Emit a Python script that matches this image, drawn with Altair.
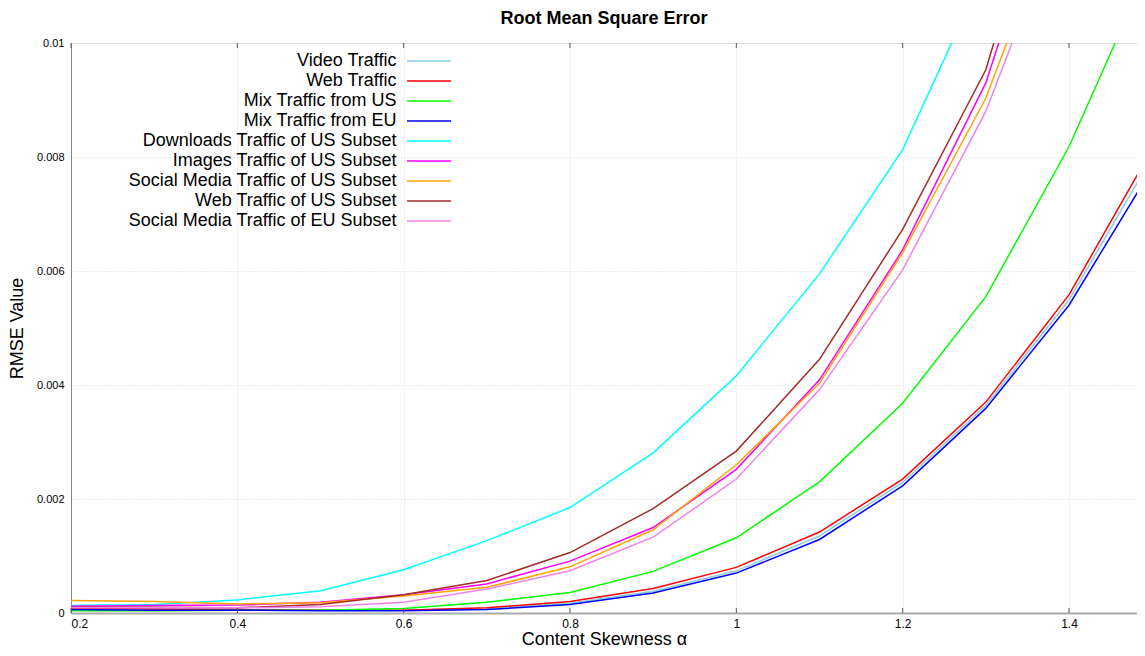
import altair as alt
import pandas as pd

x_vals = [0.2, 0.3, 0.4, 0.5, 0.6, 0.7, 0.8, 0.9, 1.0, 1.1, 1.2, 1.3, 1.4, 1.5]

series_names = [
    "Video Traffic",
    "Web Traffic",
    "Mix Traffic from US",
    "Mix Traffic from EU",
    "Downloads Traffic of US Subset",
    "Images Traffic of US Subset",
    "Social Media Traffic of US Subset",
    "Web Traffic of US Subset",
    "Social Media Traffic of EU Subset",
]
series_colors = ["#87ceeb", "#ff0000", "#00ff00", "#0000ff", "#00ffff",
                 "#ff00ff", "#ffa500", "#a52a2a", "#ee82ee"]

video = [0.00008, 0.00007, 0.00006, 0.00005, 0.00005, 0.00007, 0.00017, 0.00038,
         0.00074, 0.00135, 0.00229, 0.00364, 0.00549, 0.0080]
web = [0.00008, 0.00007, 0.00006, 0.00005, 0.00005, 0.00009, 0.00020, 0.00043,
       0.00080, 0.00142, 0.00235, 0.00370, 0.00558, 0.00814]
mix_us = [0.00004, 0.00004, 0.00005, 0.00005, 0.00008, 0.00019, 0.00036, 0.00073,
          0.00132, 0.00230, 0.00368, 0.00555, 0.00818, 0.01146]
mix_eu = [0.00006, 0.00005, 0.00005, 0.00004, 0.00004, 0.00006, 0.00015, 0.00035,
          0.00070, 0.00129, 0.00223, 0.00359, 0.00540, 0.00780]
downloads_us = [0.00013, 0.00015, 0.00023, 0.00039, 0.00076, 0.00127, 0.00185, 0.00281,
                0.00416, 0.00595, 0.00813, 0.01130, 0.01550, 0.02100]
images_us = [0.00012, 0.00013, 0.00014, 0.00019, 0.00032, 0.00051, 0.00091, 0.00150,
             0.00252, 0.00409, 0.00637, 0.00930, 0.01380, 0.02000]
social_us = [0.00022, 0.00020, 0.00016, 0.00018, 0.00030, 0.00045, 0.00081, 0.00146,
             0.00260, 0.00403, 0.00632, 0.00903, 0.01290, 0.01800]
web_us = [0.00010, 0.00010, 0.00009, 0.00015, 0.00032, 0.00057, 0.00106, 0.00183,
          0.00284, 0.00445, 0.00673, 0.00953, 0.01440, 0.02100]
social_eu = [0.00009, 0.00009, 0.00009, 0.00011, 0.00019, 0.00042, 0.00074, 0.00133,
             0.00235, 0.00392, 0.00602, 0.00880, 0.01260, 0.01750]

all_series = [video, web, mix_us, mix_eu, downloads_us, images_us, social_us, web_us, social_eu]

x_ticks = [0.2, 0.4, 0.6, 0.8, 1.0, 1.2, 1.4]
y_ticks = [0, 0.002, 0.004, 0.006, 0.008, 0.01]

rows = []
for name, vals in zip(series_names, all_series):
    for xv, yv in zip(x_vals, vals):
        rows.append({"series": name, "alpha": xv, "rmse": yv})
df = pd.DataFrame(rows)
ticks_df = pd.DataFrame({"t": x_ticks})

FONT = "Liberation Sans"
PLOT_W = 1066
PLOT_H = 570

x_scale = alt.Scale(domain=[0.2, 1.4818], nice=False, zero=False)
y_scale = alt.Scale(domain=[0, 0.01], nice=False)

lines = alt.Chart(df).mark_line(strokeWidth=1.5, clip=True).encode(
    x=alt.X("alpha:Q", scale=x_scale,
            axis=alt.Axis(values=x_ticks, format="~g", title="Content Skewness α",
                          labelFontSize=12, labelPadding=5, ticks=False,
                          titleFontSize=18, titlePadding=1, titleFontWeight="normal",
                          domainColor="#aaaaaa", domainWidth=2,
                          gridColor="#dddddd", gridDash=[1, 2])),
    y=alt.Y("rmse:Q", scale=y_scale,
            axis=alt.Axis(values=y_ticks, format="~g", title="RMSE Value",
                          labelFontSize=11, labelPadding=7, ticks=False,
                          titleFontSize=18, titlePadding=10, titleFontWeight="normal",
                          domainColor="#888888", domainWidth=1,
                          gridColor="#dddddd", gridDash=[1, 2])),
    color=alt.Color("series:N",
                    scale=alt.Scale(domain=series_names, range=series_colors),
                    sort=series_names,
                    legend=alt.Legend(title=None, orient="none", legendX=327, legendY=9,
                                      symbolType="M0,0H8", symbolSize=121,
                                      symbolStrokeWidth=1.5, labelAlign="right",
                                      labelOffset={"expr": "-19.5"}, labelFontSize=18,
                                      labelFont=FONT,
                                      labelLimit=500, rowPadding=2, padding=0,
                                      labelColor="#000000")),
)

top_ticks = alt.Chart(ticks_df).mark_rule(color="#555555", strokeWidth=1).encode(
    x=alt.X("t:Q", scale=x_scale),
    y=alt.value(0), y2=alt.value(5),
)
bottom_ticks = alt.Chart(ticks_df).mark_rule(color="#555555", strokeWidth=1).encode(
    x=alt.X("t:Q", scale=x_scale),
    y=alt.value(PLOT_H - 5), y2=alt.value(PLOT_H),
)

chart = alt.layer(lines, top_ticks, bottom_ticks).properties(
    width=PLOT_W, height=PLOT_H,
    title=alt.TitleParams("Root Mean Square Error", fontSize=18, fontWeight="bold",
                          font=FONT, anchor="middle", frame="group", offset=9),
    autosize=alt.AutoSizeParams(type="none"),
    padding={"left": 63, "top": 35, "right": 0, "bottom": 35},
).configure_view(
    stroke="#888888", strokeWidth=1
).configure_axis(
    labelFont=FONT, titleFont=FONT, labelColor="#111111", titleColor="#000000"
).configure(background="white")

chart.save("out.html", embed_options={"renderer": "svg", "actions": False})
